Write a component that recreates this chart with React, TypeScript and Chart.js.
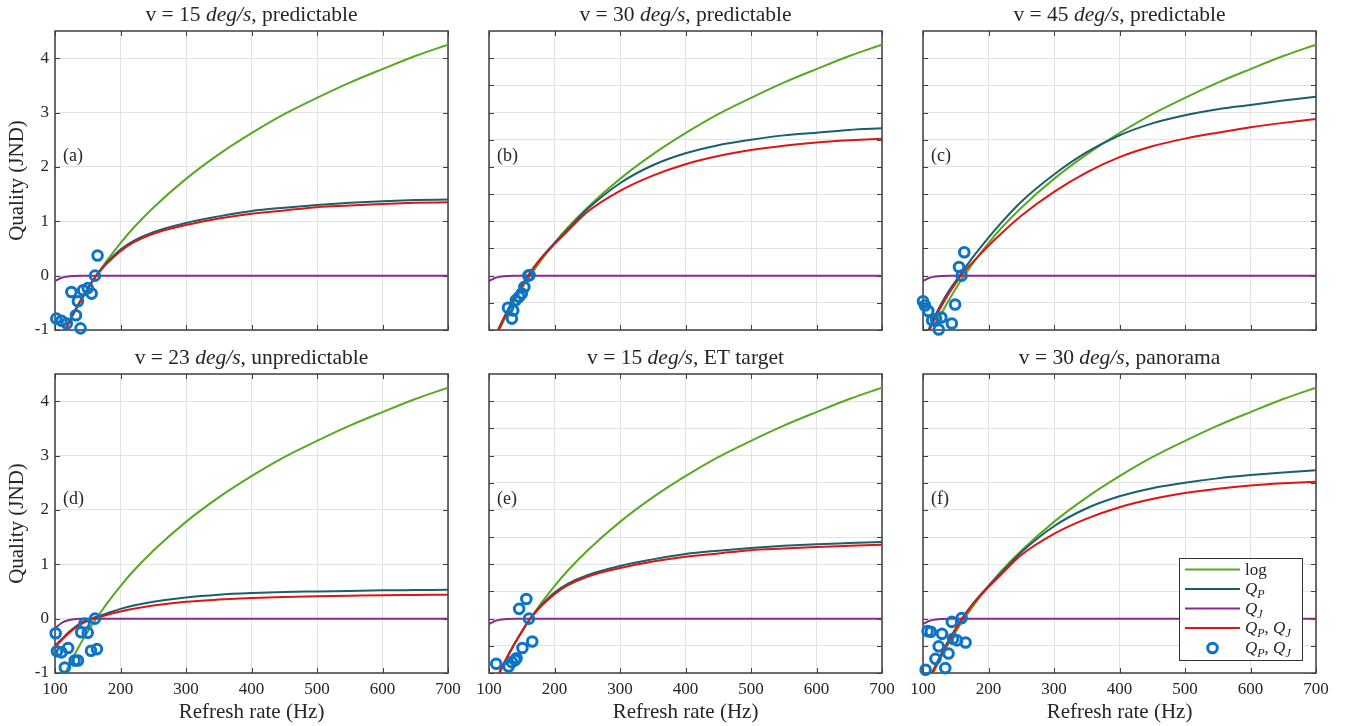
import React, { useEffect, useRef } from "react";
import { Chart, registerables } from "chart.js";

Chart.register(...registerables);

const FONT = '"Liberation Serif", "Times New Roman", serif';
const INK = "#262626";
const GRID = "#e3e3e3";
const BOX = "#3f3f3f";
const GREEN = "#5AA821";
const TEAL = "#1A5F6E";
const PURPLE = "#8A2990";
const RED = "#DF1414";
const BLUE = "#0B74C6";

// ---------------- data ----------------
const xTicks = [100, 200, 300, 400, 500, 600, 700];
const yTicksLabeled = [-1, 0, 1, 2, 3, 4];
const yTicksHalf = [-1, -0.5, 0, 0.5, 1, 1.5, 2, 2.5, 3, 3.5, 4];

const refreshRates = [100, 110, 120, 130, 140, 150, 160, 170, 180, 200, 220, 250, 300, 350, 400, 450, 500, 550, 600, 650, 700];

const logQ = [-1.43, -1.15, -0.89, -0.66, -0.44, -0.24, -0.05, 0.12, 0.29, 0.6, 0.88, 1.25, 1.78, 2.23, 2.62, 2.97, 3.27, 3.55, 3.8, 4.04, 4.25];

const qpA = [-1.43, -1.15, -0.89, -0.66, -0.44, -0.24, -0.05, 0.11, 0.25, 0.48, 0.64, 0.8, 0.97, 1.09, 1.19, 1.25, 1.3, 1.34, 1.37, 1.39, 1.4];
const qpjA = [-1.43, -1.15, -0.89, -0.66, -0.44, -0.24, -0.05, 0.1, 0.23, 0.45, 0.61, 0.77, 0.93, 1.05, 1.14, 1.2, 1.26, 1.29, 1.32, 1.34, 1.35];
const qjA = [-0.1, -0.04, -0.015, -0.005, 0, 0, 0, 0, 0, 0, 0, 0, 0, 0, 0, 0, 0, 0, 0, 0, 0];

const qpB = [-1.4, -1.1, -0.84, -0.6, -0.38, -0.18, 0.01, 0.18, 0.33, 0.6, 0.85, 1.22, 1.7, 2.03, 2.25, 2.4, 2.5, 2.58, 2.63, 2.68, 2.71];
const qpjB = [-1.45, -1.13, -0.86, -0.62, -0.4, -0.19, 0.0, 0.17, 0.32, 0.58, 0.82, 1.17, 1.56, 1.84, 2.05, 2.2, 2.31, 2.39, 2.45, 2.49, 2.52];
const qjB = [-0.1, -0.04, -0.015, -0.005, 0, 0, 0, 0, 0, 0, 0, 0, 0, 0, 0, 0, 0, 0, 0, 0, 0];

const qpC = [-1.25, -0.95, -0.7, -0.47, -0.27, -0.1, 0.07, 0.24, 0.4, 0.7, 0.98, 1.36, 1.86, 2.27, 2.58, 2.8, 2.95, 3.06, 3.14, 3.22, 3.29];
const qpjC = [-1.3, -1.0, -0.74, -0.52, -0.32, -0.14, 0.03, 0.17, 0.3, 0.55, 0.78, 1.1, 1.54, 1.9, 2.18, 2.38, 2.52, 2.63, 2.73, 2.81, 2.88];
const qjC = [-0.1, -0.04, -0.015, -0.005, 0, 0, 0, 0, 0, 0, 0, 0, 0, 0, 0, 0, 0, 0, 0, 0, 0];

const qpD = [-0.5, -0.38, -0.26, -0.16, -0.08, -0.02, 0.02, 0.06, 0.1, 0.18, 0.24, 0.31, 0.39, 0.44, 0.47, 0.49, 0.5, 0.51, 0.52, 0.525, 0.53];
const qpjD = [-0.52, -0.4, -0.28, -0.18, -0.1, -0.04, 0.0, 0.035, 0.07, 0.13, 0.18, 0.24, 0.31, 0.35, 0.38, 0.4, 0.41, 0.42, 0.43, 0.435, 0.44];
const qjD = [-0.18, -0.08, -0.03, -0.01, -0.003, 0, 0, 0, 0, 0, 0, 0, 0, 0, 0, 0, 0, 0, 0, 0, 0];

const qpE = [-1.43, -1.15, -0.89, -0.66, -0.44, -0.24, -0.05, 0.11, 0.25, 0.48, 0.64, 0.8, 0.97, 1.09, 1.19, 1.25, 1.3, 1.34, 1.37, 1.39, 1.41];
const qpjE = [-1.43, -1.15, -0.89, -0.66, -0.44, -0.24, -0.05, 0.1, 0.23, 0.45, 0.61, 0.77, 0.93, 1.05, 1.14, 1.2, 1.26, 1.29, 1.32, 1.34, 1.36];
const qjE = [-0.1, -0.04, -0.015, -0.005, 0, 0, 0, 0, 0, 0, 0, 0, 0, 0, 0, 0, 0, 0, 0, 0, 0];

const qpF = [-1.4, -1.1, -0.84, -0.6, -0.38, -0.18, 0.01, 0.18, 0.33, 0.6, 0.85, 1.22, 1.7, 2.03, 2.25, 2.4, 2.5, 2.58, 2.64, 2.69, 2.73];
const qpjF = [-1.45, -1.13, -0.86, -0.62, -0.4, -0.19, 0.0, 0.17, 0.32, 0.58, 0.82, 1.17, 1.56, 1.84, 2.05, 2.2, 2.31, 2.39, 2.45, 2.49, 2.52];
const qjF = [-0.1, -0.04, -0.015, -0.005, 0, 0, 0, 0, 0, 0, 0, 0, 0, 0, 0, 0, 0, 0, 0, 0, 0];

const ptsA: [number, number][] = [[102, -0.79], [110, -0.83], [118, -0.88], [125, -0.3], [132, -0.73], [135, -0.47], [139, -0.97], [143, -0.27], [150, -0.23], [156, -0.33], [161, 0], [165, 0.37]];
const ptsB: [number, number][] = [[129, -0.59], [135, -0.79], [137, -0.64], [141, -0.45], [146, -0.39], [150, -0.33], [154, -0.21], [160, 0], [162, 0.01]];
const ptsC: [number, number][] = [[100, -0.47], [103, -0.55], [108, -0.65], [114, -0.82], [120, -0.8], [124, -0.99], [128, -0.77], [144, -0.88], [149, -0.53], [155, 0.16], [159, 0], [163, 0.43]];
const ptsD: [number, number][] = [[101, -0.27], [103, -0.6], [110, -0.62], [115, -0.9], [120, -0.54], [130, -0.77], [135, -0.77], [140, -0.25], [145, -0.09], [150, -0.26], [155, -0.59], [161, 0], [164, -0.56]];
const ptsE: [number, number][] = [[111, -0.83], [130, -0.88], [135, -0.8], [140, -0.76], [142, -0.73], [146, 0.18], [151, -0.54], [157, 0.36], [161, 0], [166, -0.42]];
const ptsF: [number, number][] = [[104, -0.94], [107, -0.23], [112, -0.24], [119, -0.74], [124, -0.51], [129, -0.28], [134, -0.91], [139, -0.64], [144, -0.06], [146, -0.37], [152, -0.4], [159, 0.01], [165, -0.44]];

const panelTags = ["(a)", "(b)", "(c)", "(d)", "(e)", "(f)"];
const panelSpeeds = [15, 30, 45, 23, 15, 30];
const panelConditions = ["predictable", "predictable", "predictable", "unpredictable", "ET target", "panorama"];

const xTitle = "Refresh rate (Hz)";
const yTitle = "Quality (JND)";

// ---------------- rich text ----------------
type Seg = { t: string; it?: boolean; sub?: boolean };
const segQP: Seg[] = [{ t: "Q", it: true }, { t: "P", it: true, sub: true }];
const segQJ: Seg[] = [{ t: "Q", it: true }, { t: "J", it: true, sub: true }];
const legendLabels: Seg[][] = [
  [{ t: "log" }],
  segQP,
  segQJ,
  [...segQP, { t: ", " }, ...segQJ],
  [...segQP, { t: ", " }, ...segQJ],
];

function segFont(s: Seg, size: number) {
  const sz = s.sub ? Math.round(size * 0.72) : size;
  return `${s.it ? "italic " : ""}${sz}px ${FONT}`;
}
function richWidth(ctx: CanvasRenderingContext2D, segs: Seg[], size: number) {
  let w = 0;
  for (const s of segs) {
    ctx.font = segFont(s, size);
    w += ctx.measureText(s.t).width;
  }
  return w;
}
function drawRich(ctx: CanvasRenderingContext2D, segs: Seg[], x: number, y: number, size: number, align: "left" | "center") {
  const w = richWidth(ctx, segs, size);
  let cx = align === "center" ? x - w / 2 : x;
  ctx.textAlign = "left";
  ctx.textBaseline = "alphabetic";
  for (const s of segs) {
    ctx.font = segFont(s, size);
    ctx.fillText(s.t, cx, s.sub ? y + size * 0.25 : y);
    cx += ctx.measureText(s.t).width;
  }
}

// ---------------- layout ----------------
const colCanvas = [
  { left: 0, width: 468, lm: 55, rm: 20 },
  { left: 468, width: 434, lm: 21, rm: 20 },
  { left: 902, width: 447, lm: 21, rm: 33 },
];
const rowCanvas = [
  { top: 0, height: 349, tm: 31, bm: 19 },
  { top: 349, height: 377, tm: 25, bm: 53 },
];

type PanelSpec = {
  idx: number;
  qp: number[];
  qpj: number[];
  qj: number[];
  pts: [number, number][];
};

const panels: PanelSpec[] = [
  { idx: 0, qp: qpA, qpj: qpjA, qj: qjA, pts: ptsA },
  { idx: 1, qp: qpB, qpj: qpjB, qj: qjB, pts: ptsB },
  { idx: 2, qp: qpC, qpj: qpjC, qj: qjC, pts: ptsC },
  { idx: 3, qp: qpD, qpj: qpjD, qj: qjD, pts: ptsD },
  { idx: 4, qp: qpE, qpj: qpjE, qj: qjE, pts: ptsE },
  { idx: 5, qp: qpF, qpj: qpjF, qj: qjF, pts: ptsF },
];

function toXY(ys: number[]) {
  return refreshRates.map((x, i) => ({ x, y: ys[i] }));
}

function makeDecor(p: PanelSpec) {
  return {
    id: "decor",
    beforeDatasetsDraw(chart: any) {
      const { ctx, chartArea: a, scales } = chart;
      ctx.save();
      ctx.strokeStyle = BOX;
      ctx.lineWidth = 1;
      const tl = 5;
      ctx.beginPath();
      for (const t of scales.x.ticks) {
        const px = Math.round(scales.x.getPixelForValue(t.value)) + 0.5;
        ctx.moveTo(px, a.bottom);
        ctx.lineTo(px, a.bottom - tl);
        ctx.moveTo(px, a.top);
        ctx.lineTo(px, a.top + tl);
      }
      for (const t of scales.y.ticks) {
        const py = Math.round(scales.y.getPixelForValue(t.value)) + 0.5;
        ctx.moveTo(a.left, py);
        ctx.lineTo(a.left + tl, py);
        ctx.moveTo(a.right, py);
        ctx.lineTo(a.right - tl, py);
      }
      ctx.stroke();
      ctx.lineWidth = 1.5;
      ctx.strokeRect(a.left, a.top, a.right - a.left, a.bottom - a.top);
      ctx.restore();
    },
    afterDraw(chart: any) {
      const { ctx, chartArea: a, scales } = chart;
      ctx.save();
      ctx.fillStyle = INK;
      // title
      const title: Seg[] = [
        { t: `v = ${panelSpeeds[p.idx]} ` },
        { t: "deg/s", it: true },
        { t: `, ${panelConditions[p.idx]}` },
      ];
      drawRich(ctx, title, (a.left + a.right) / 2, a.top - 10, 21.5, "center");
      // panel tag
      ctx.fillStyle = INK;
      ctx.font = `18px ${FONT}`;
      ctx.textAlign = "left";
      ctx.textBaseline = "middle";
      ctx.fillText(panelTags[p.idx], a.left + 8, scales.y.getPixelForValue(2.2));
      // legend
      if (p.idx === 5) {
        const w = 123;
        const h = 102;
        const bx = a.right - 14 - w;
        const by = a.bottom - 13 - h;
        ctx.fillStyle = "#ffffff";
        ctx.fillRect(bx, by, w, h);
        ctx.strokeStyle = "#333333";
        ctx.lineWidth = 1;
        ctx.strokeRect(bx + 0.5, by + 0.5, w, h);
        const order = [4, 3, 2, 1, 0]; // dataset indices: green, teal, purple, red, scatter
        const rowsY = [11.5, 31, 50.5, 70, 90];
        order.forEach((di, r) => {
          const ds = chart.data.datasets[di];
          const cy = by + rowsY[r];
          if (di === 0) {
            ctx.beginPath();
            ctx.strokeStyle = ds.pointBorderColor;
            ctx.lineWidth = ds.pointBorderWidth;
            ctx.arc(bx + 33.5, cy, ds.pointRadius, 0, Math.PI * 2);
            ctx.stroke();
          } else {
            ctx.beginPath();
            ctx.strokeStyle = ds.borderColor;
            ctx.lineWidth = 2;
            ctx.moveTo(bx + 6, cy);
            ctx.lineTo(bx + 61, cy);
            ctx.stroke();
          }
          ctx.fillStyle = INK;
          drawRich(ctx, legendLabels[r], bx + 66, cy + 5, 17, "left");
        });
      }
      ctx.restore();
    },
  };
}

function buildConfig(p: PanelSpec): any {
  const col = p.idx % 3;
  const row = Math.floor(p.idx / 3);
  const cc = colCanvas[col];
  const rc = rowCanvas[row];
  const lineCommon = {
    pointRadius: 0,
    borderWidth: 2,
    cubicInterpolationMode: "monotone",
    clip: 0,
    fill: false,
  };
  return {
    type: "line",
    data: {
      datasets: [
        {
          type: "scatter",
          label: "QP, QJ data",
          data: p.pts.map(([x, y]) => ({ x, y })),
          showLine: false,
          pointRadius: 4.8,
          pointBorderWidth: 3,
          pointBorderColor: BLUE,
          pointBackgroundColor: "rgba(0,0,0,0)",
          pointHoverRadius: 4.8,
          clip: false,
          order: 0,
        },
        { ...lineCommon, label: "QP, QJ", data: toXY(p.qpj), borderColor: RED, order: 1 },
        { ...lineCommon, label: "QJ", data: toXY(p.qj), borderColor: PURPLE, order: 2 },
        { ...lineCommon, label: "QP", data: toXY(p.qp), borderColor: TEAL, order: 3 },
        { ...lineCommon, label: "log", data: toXY(logQ), borderColor: GREEN, order: 4 },
      ],
    },
    options: {
      animation: false,
      responsive: false,
      maintainAspectRatio: false,
      events: [],
      layout: { padding: { left: 0, right: cc.rm, top: rc.tm, bottom: 0 } },
      plugins: { legend: { display: false }, tooltip: { enabled: false }, title: { display: false } },
      scales: {
        x: {
          type: "linear",
          min: 100,
          max: 700,
          afterBuildTicks: (s: any) => {
            s.ticks = xTicks.map((v) => ({ value: v }));
          },
          afterFit: (s: any) => {
            s.height = rc.bm;
          },
          grid: { color: GRID, lineWidth: 1, drawTicks: false },
          border: { display: false },
          ticks: {
            display: row === 1,
            font: { family: FONT, size: 17 },
            color: INK,
            padding: 6,
            maxRotation: 0,
            autoSkip: false,
            callback: (v: any) => String(v),
          },
          title: {
            display: row === 1,
            text: xTitle,
            font: { family: FONT, size: 21 },
            color: INK,
            padding: { top: 0, bottom: 1 },
          },
        },
        y: {
          type: "linear",
          min: -1,
          max: 4.5,
          afterBuildTicks: (s: any) => {
            s.ticks = (col === 0 ? yTicksLabeled : yTicksHalf).map((v) => ({ value: v }));
          },
          afterFit: (s: any) => {
            s.width = cc.lm;
          },
          grid: { color: GRID, lineWidth: 1, drawTicks: false },
          border: { display: false },
          ticks: {
            display: col === 0,
            font: { family: FONT, size: 17 },
            color: INK,
            padding: 6,
            callback: (v: any) => String(v),
          },
          title: {
            display: col === 0,
            text: yTitle,
            font: { family: FONT, size: 21 },
            color: INK,
            padding: { top: 5, bottom: 0 },
          },
        },
      },
    },
    plugins: [makeDecor(p)],
  };
}

function Panel({ p }: { p: PanelSpec }) {
  const ref = useRef<HTMLCanvasElement>(null);
  const col = p.idx % 3;
  const row = Math.floor(p.idx / 3);
  const cc = colCanvas[col];
  const rc = rowCanvas[row];
  useEffect(() => {
    const chart = new Chart(ref.current as HTMLCanvasElement, buildConfig(p));
    return () => chart.destroy();
  }, [p]);
  return (
    <canvas
      ref={ref}
      width={cc.width}
      height={rc.height}
      style={{ position: "absolute", left: cc.left, top: rc.top, width: cc.width, height: rc.height, display: "block" }}
    />
  );
}

export default function App() {
  return (
    <div style={{ position: "absolute", left: 0, top: 0, width: 1349, height: 726, background: "#ffffff", overflow: "hidden" }}>
      {panels.map((p) => (
        <Panel key={p.idx} p={p} />
      ))}
    </div>
  );
}
